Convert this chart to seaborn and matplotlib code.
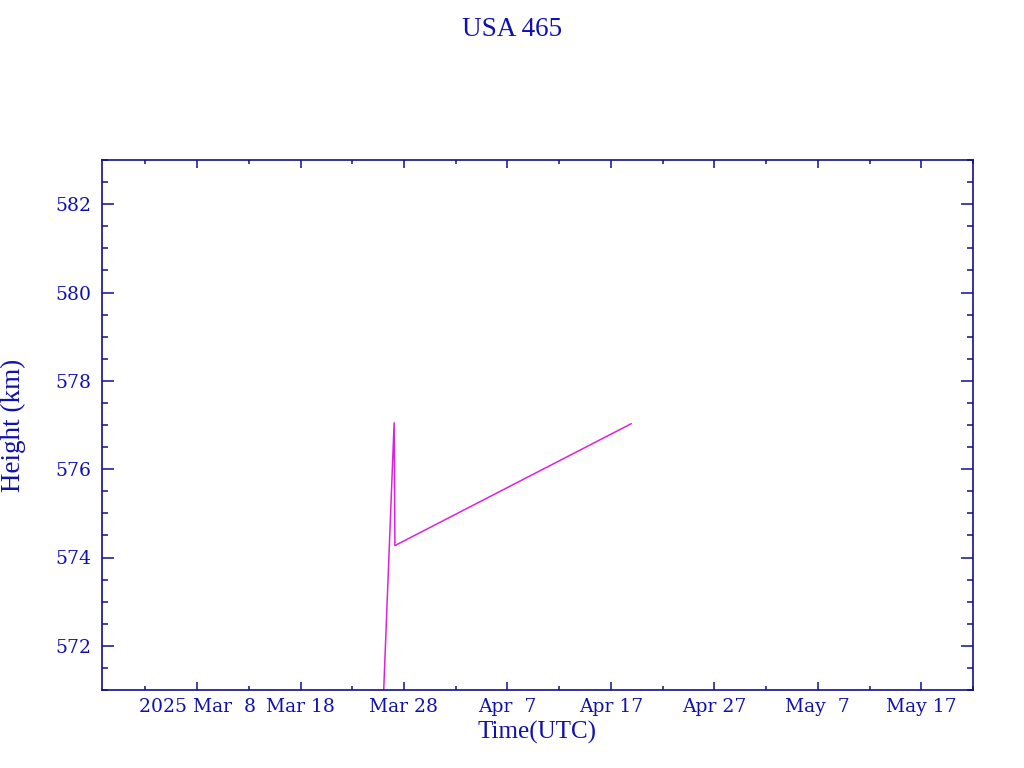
import numpy as np
import pandas as pd
import matplotlib
matplotlib.use("Agg")
import matplotlib.pyplot as plt
import matplotlib.dates as mdates
from matplotlib.ticker import FuncFormatter, MultipleLocator, FixedLocator
import seaborn as sns

# orbit height samples (UTC)
times = ["2025-03-25 23:00", "2025-03-27 01:10", "2025-03-27 03:00", "2025-04-18 23:15"]
heights = [570.5, 577.05, 574.27, 577.03]

title = "USA 465"
x_label = "Time(UTC)"
y_label = "Height (km)"

major_days = pd.date_range("2025-03-08", periods=8, freq="10D")
minor_days = pd.date_range("2025-02-26", periods=18, freq="5D")
x_range = (pd.Timestamp("2025-02-26 19:30"), pd.Timestamp("2025-05-22 00:00"))
y_range = (571, 583)

axis_col = "#10108c"
text_col = "#1010b0"
line_col = "#dd22dd"

df = pd.DataFrame({"time": pd.to_datetime(times), "height": heights})

sns.set_style("ticks")
plt.rcParams["font.family"] = ["DejaVu Serif"]

fig = plt.figure(figsize=(10.24, 7.68), dpi=100)
ax = fig.add_axes([102 / 1024, 1 - 690 / 768, 871 / 1024, 530 / 768])

sns.lineplot(data=df, x="time", y="height", ax=ax, color=line_col,
             linewidth=1.1, estimator=None, sort=False)

ax.set_xlim(*x_range)
ax.set_ylim(*y_range)

ax.xaxis.set_major_locator(FixedLocator(mdates.date2num(major_days)))
ax.xaxis.set_minor_locator(FixedLocator(mdates.date2num(minor_days)))


def fmt_date(v, pos):
    d = mdates.num2date(v)
    s = f"{d:%b} {d.day:2d}"
    if pos == 0:
        s = f"{d.year} " + s
    return s


ax.xaxis.set_major_formatter(FuncFormatter(fmt_date))
ax.yaxis.set_major_locator(MultipleLocator(2))
ax.yaxis.set_minor_locator(MultipleLocator(0.5))

for sp in ax.spines.values():
    sp.set_color(axis_col)
    sp.set_linewidth(1.2)

ax.tick_params(which="both", direction="in", top=True, right=True,
               color=axis_col, width=1.1, labelcolor=text_col, labelsize=13.5)
ax.tick_params(axis="x", which="major", length=6, pad=6)
ax.tick_params(axis="x", which="minor", length=3)
ax.tick_params(axis="y", which="major", length=8.6, pad=8)
ax.tick_params(axis="y", which="minor", length=4.3)

ax.set_xlabel(x_label, family="Liberation Serif", fontsize=18, color=text_col, labelpad=3)
ax.set_ylabel(y_label, family="Liberation Serif", fontsize=19.5, color=text_col)
ax.yaxis.set_label_coords(-0.087, 0.5)
fig.suptitle(title, family="Liberation Serif", fontsize=19.5, color=text_col, y=1 - 30 / 768, va="center")

fig.savefig("out.png", dpi=100, facecolor="white")
